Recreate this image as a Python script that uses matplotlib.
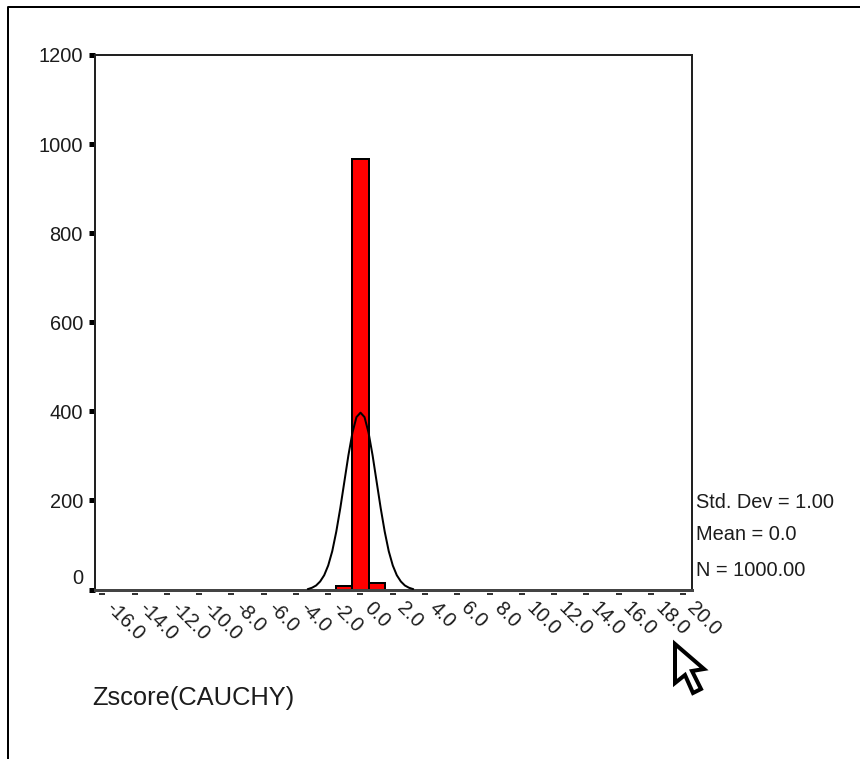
import matplotlib
matplotlib.use("Agg")
import matplotlib.pyplot as plt
from matplotlib.patches import Polygon
from matplotlib.lines import Line2D
from matplotlib.transforms import ScaledTranslation, blended_transform_factory

W, H = 860, 759

# ---- data ----
bin_centers = [-1, 0, 1]
bin_counts = [8, 967, 14]
curve_x = [-3.25, -3.0, -2.75, -2.5, -2.25, -2.0, -1.75, -1.5, -1.25, -1.0, -0.75, -0.5, -0.25,
           0.0, 0.25, 0.5, 0.75, 1.0, 1.25, 1.5, 1.75, 2.0, 2.25, 2.5, 2.75, 3.0, 3.25]
curve_y = [1, 4, 9, 18, 32, 54, 86, 130, 183, 242, 301, 352, 387,
           397, 387, 352, 301, 242, 183, 130, 86, 54, 32, 18, 9, 4, 1]
x_ticks = [-16, -14, -12, -10, -8, -6, -4, -2, 0, 2, 4, 6, 8, 10, 12, 14, 16, 18, 20]
x_labels = ["-16.0", "-14.0", "-12.0", "-10.0", "-8.0", "-6.0", "-4.0", "-2.0", "0.0", "2.0",
            "4.0", "6.0", "8.0", "10.0", "12.0", "14.0", "16.0", "18.0", "20.0"]
y_ticks = [0, 200, 400, 600, 800, 1000, 1200]
stats_labels = ["Std. Dev = 1.00", "Mean = 0.0", "N = 1000.00"]
x_title = "Zscore(CAUCHY)"

plt.rcParams["font.family"] = ["Liberation Sans", "DejaVu Sans"]
INK = "#1c1c1c"
PX = 72 / 100  # points per pixel at dpi 100

fig = plt.figure(figsize=(W / 100, H / 100), dpi=100, facecolor="white")
L, R, T, B = 95, 692, 55, 589.5
ax = fig.add_axes([L / W, 1 - B / H, (R - L) / W, (B - T) / H])
ax.set_xlim(-16.45, 20.54)
ax.set_ylim(0, 1200)

ax.bar(bin_centers, bin_counts, width=1.0, color="#ff0000", edgecolor="black",
       linewidth=2 * PX, zorder=2)
ax.plot(curve_x, curve_y, color="black", linewidth=2 * PX, zorder=3)

for s in ("top", "right", "left"):
    ax.spines[s].set_linewidth(2 * PX)
    ax.spines[s].set_color("#222222")
ax.spines["bottom"].set_linewidth(3 * PX)
ax.spines["bottom"].set_color("#444444")

ax.set_yticks(y_ticks)
ax.set_yticklabels([str(v) for v in y_ticks])
ax.tick_params(axis="y", length=6 * PX, width=5 * PX, color="black", pad=6 * PX,
               labelsize=20 * PX, labelcolor=INK)
for tick, v in zip(ax.yaxis.get_major_ticks(), y_ticks):
    if v == 0:
        lab = tick.label1
        lab.set_transform(lab.get_transform() + ScaledTranslation(0, 13 / 100, fig.dpi_scale_trans))

ax.set_xticks(x_ticks)
ax.set_xticklabels(x_labels, rotation=-45, rotation_mode="anchor", ha="left", va="center")
ax.tick_params(axis="x", length=0, pad=16 * PX, labelsize=20 * PX, labelcolor=INK)
for lab in ax.get_xticklabels():
    lab.set_transform(lab.get_transform() + ScaledTranslation(7 / 100, 0, fig.dpi_scale_trans))

# detached dashes under the axis
dash_tr = blended_transform_factory(ax.transData, ax.transAxes) + ScaledTranslation(0, -4 / 100, fig.dpi_scale_trans)
ax.plot(x_ticks, [0] * len(x_ticks), linestyle="none", marker="_", markersize=6 * PX,
        markeredgewidth=2 * PX, color="#333333", transform=dash_tr, clip_on=False)

def fx(px):
    return px / W

def fy(py):
    return 1 - py / H

for label, py in zip(stats_labels, [503, 535, 570]):
    fig.text(fx(696), fy(py), label, fontsize=20 * PX, color=INK, va="center", ha="left")
fig.text(fx(92), fy(698), x_title, fontsize=25.5 * PX, color=INK, va="center", ha="left")

# outer window frame
fig.add_artist(Line2D([fx(8), fx(8), 1], [0, fy(6.5), fy(6.5)], color="black", linewidth=2 * PX))

# mouse pointer
pointer = [(675, 644), (704, 669), (692, 671), (701, 689), (693, 693), (685, 675), (675, 683)]
fig.add_artist(Polygon([(fx(a), fy(b)) for a, b in pointer], closed=True, facecolor="white",
                       edgecolor="black", linewidth=4 * PX, transform=fig.transFigure, joinstyle="miter"))

fig.savefig("out.png", dpi=100)
